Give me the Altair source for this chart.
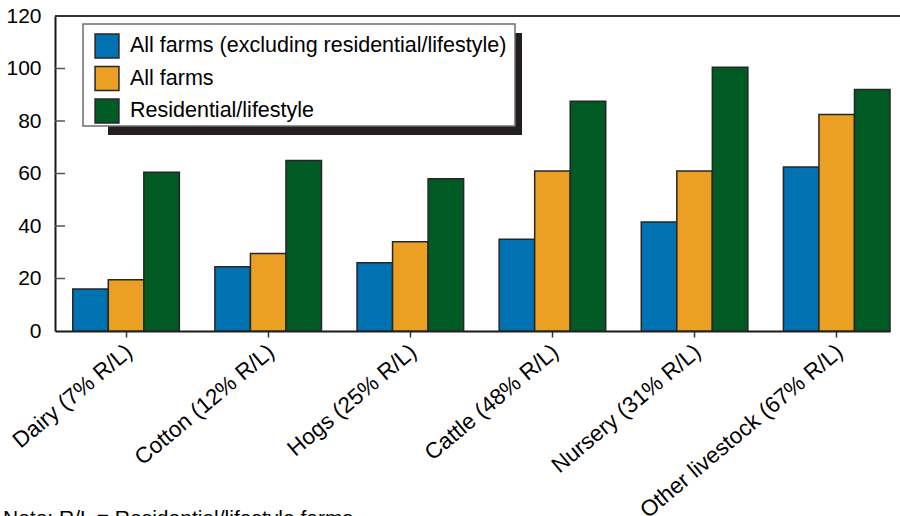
import altair as alt
import pandas as pd

categories = ["Dairy (7% R/L)", "Cotton (12% R/L)", "Hogs (25% R/L)",
              "Cattle (48% R/L)", "Nursery (31% R/L)", "Other livestock (67% R/L)"]
series = ["All farms (excluding residential/lifestyle)", "All farms", "Residential/lifestyle"]
excl_rl = [16, 24.5, 26, 35, 41.5, 62.5]
all_farms = [19.5, 29.5, 34, 61, 61, 82.5]
res_life = [60.5, 65, 58, 87.5, 100.5, 92]
colors = ["#0072B2", "#EBA023", "#005A24"]
y_ticks = [0, 20, 40, 60, 80, 100, 120]
inner_ticks = [20, 40, 60, 80, 100]
note = "Note: R/L = Residential/lifestyle farms."

rows = []
for s, vals in zip(series, [excl_rl, all_farms, res_life]):
    for c, v in zip(categories, vals):
        rows.append({"category": c, "series": s, "value": v})
df = pd.DataFrame(rows)

FONT = "Liberation Sans"

bars = alt.Chart(df).mark_bar(stroke="#262626", strokeWidth=1.5).encode(
    x=alt.X("category:N", sort=categories, title=None,
            scale=alt.Scale(paddingInner=0.25, paddingOuter=0.0625, align=1),
            axis=alt.Axis(labelAngle=320, labelAlign="right", labelBaseline="top",
                          labelFontSize=22.5, labelFont=FONT, labelColor="black",
                          labelPadding=3, labelOffset=-4, labelLimit=0,
                          domainColor="#1a1a1a", domainWidth=2,
                          tickColor="#333333", tickWidth=1.5, tickSize=6)),
    xOffset=alt.XOffset("series:N", sort=series,
                        scale=alt.Scale(paddingInner=0, paddingOuter=0)),
    y=alt.Y("value:Q", title=None,
            scale=alt.Scale(domain=[0, 120], nice=False),
            axis=alt.Axis(values=y_ticks, grid=False, ticks=False, labelPadding=14,
                          labelFontSize=21, labelFont=FONT, labelColor="black",
                          domainColor="#1a1a1a", domainWidth=2)),
    color=alt.Color("series:N", sort=series,
                    scale=alt.Scale(domain=series, range=colors),
                    legend=alt.Legend(title=None, orient="none", legendX=39, legendY=17,
                                      padding=0, symbolType="square", symbolSize=570,
                                      symbolStrokeColor="#262626", symbolStrokeWidth=1.5,
                                      symbolOpacity=1, labelFontSize=21.5, labelFont=FONT,
                                      labelColor="black", labelOffset=10, rowPadding=2.5,
                                      labelLimit=600)),
)

tick_df = pd.DataFrame({"v": inner_ticks})
ticks = alt.Chart(tick_df).mark_rule(color="#555555", strokeWidth=1.5).encode(
    y=alt.Y("v:Q", scale=alt.Scale(domain=[0, 120], nice=False)),
    x=alt.value(0), x2=alt.value(10))

top_df = pd.DataFrame({"v": [120]})
top_line = alt.Chart(top_df).mark_rule(color="#333333", strokeWidth=2).encode(
    y=alt.Y("v:Q", scale=alt.Scale(domain=[0, 120], nice=False)),
    x=alt.value(0), x2=alt.value(845))

shadow = alt.Chart(top_df).mark_rect(color="#231f20").encode(
    x=alt.value(53), x2=alt.value(467), y=alt.value(17), y2=alt.value(119))
box = alt.Chart(top_df).mark_rect(fill="white", stroke="#6e6e6e", strokeWidth=1.5).encode(
    x=alt.value(28), x2=alt.value(460), y=alt.value(8), y2=alt.value(110))

note_df = pd.DataFrame({"t": [note]})
note_text = alt.Chart(note_df).mark_text(align="left", baseline="alphabetic",
                                         fontSize=21, font=FONT, color="black").encode(
    text="t:N", x=alt.value(-52), y=alt.value(509))

chart = alt.layer(shadow, box, bars, ticks, top_line, note_text).properties(
    width=835, height=315,
    autosize=alt.AutoSizeParams(type="none"),
    padding={"left": 55, "top": 16, "right": 10, "bottom": 185},
).configure(background="white").configure_view(stroke=None)

chart.save("out.html", embed_options={"renderer": "svg", "actions": False})
